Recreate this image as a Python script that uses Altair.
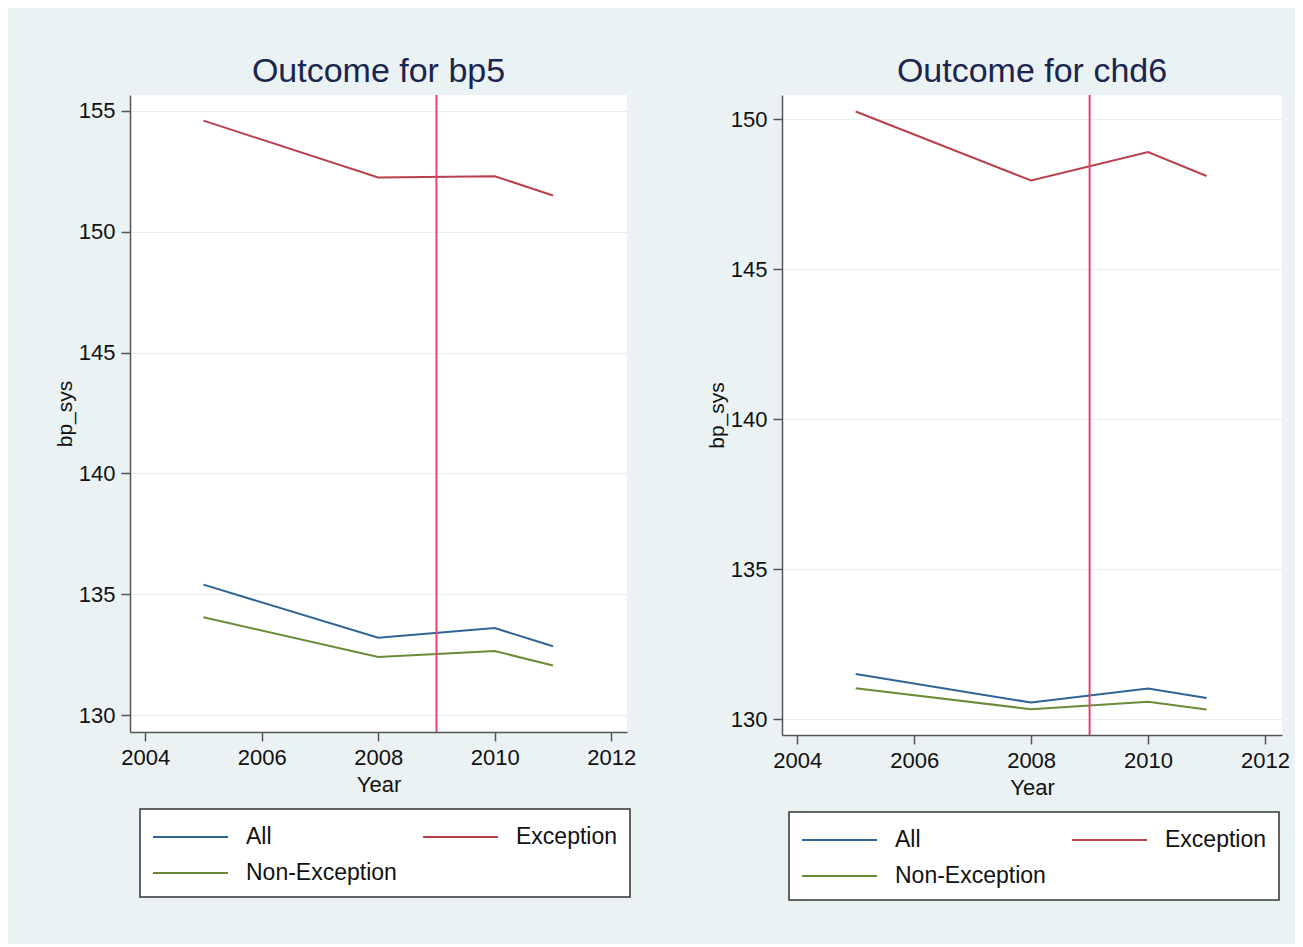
import altair as alt
import pandas as pd

years = [2005, 2008, 2010, 2011]
groups = ["All", "Exception", "Non-Exception"]

bp5_all = [135.4, 133.2, 133.6, 132.85]
bp5_exc = [154.6, 152.25, 152.3, 151.5]
bp5_non = [134.05, 132.4, 132.65, 132.05]

chd6_all = [131.5, 130.55, 131.02, 130.7]
chd6_exc = [150.25, 147.95, 148.9, 148.1]
chd6_non = [131.03, 130.33, 130.58, 130.32]

policy_year = [2009]
x_ticks = [2004, 2006, 2008, 2010, 2012]
bp5_ticks = [130, 135, 140, 145, 150, 155]
chd6_ticks = [130, 135, 140, 145, 150]

colors = ["#2f6496", "#b9404c", "#6a8c3a"]
FONT = "Liberation Sans"
LEGEND_LINE = "M-1,0H4"


def panel_df(all_vals, exc_vals, non_vals):
    rows = []
    for g, vals in zip(groups, [all_vals, exc_vals, non_vals]):
        for yr, v in zip(years, vals):
            rows.append({"Year": yr, "bp_sys": v, "group": g})
    return pd.DataFrame(rows)


def make_panel(df, title, xdom, ydom, yticks, w, h, lx, ly):
    lines = alt.Chart(df).mark_line(strokeWidth=2).encode(
        x=alt.X("Year:Q",
                scale=alt.Scale(domain=xdom, nice=False, zero=False),
                axis=alt.Axis(values=x_ticks, format="d", grid=False, title="Year")),
        y=alt.Y("bp_sys:Q",
                scale=alt.Scale(domain=ydom, nice=False, zero=False),
                axis=alt.Axis(values=yticks, grid=True, title="bp_sys")),
        color=alt.Color("group:N",
                        scale=alt.Scale(domain=groups, range=colors),
                        legend=alt.Legend(title=None, orient="none", legendX=lx, legendY=ly,
                                          direction="horizontal", columns=2,
                                          symbolType=LEGEND_LINE, symbolSize=900,
                                          symbolStrokeWidth=2, labelFontSize=23, labelFont=FONT,
                                          labelColor="#111111", labelOffset=62,
                                          columnPadding=22, rowPadding=8, padding=12,
                                          fillColor="white", strokeColor="#333333")),
    )
    rule = alt.Chart(pd.DataFrame({"Year": policy_year})).mark_rule(
        color="#e0456b", strokeWidth=2).encode(x="Year:Q")
    return alt.layer(lines, rule).properties(
        width=w, height=h,
        title=alt.TitleParams(title, fontSize=34, font=FONT, color="#1a2550",
                              fontWeight="normal", anchor="middle", offset=5))


left = make_panel(panel_df(bp5_all, bp5_exc, bp5_non), "Outcome for bp5",
                  [2003.74, 2012.27], [129.3, 155.66], bp5_ticks, 497, 637, 10, 714)
right = make_panel(panel_df(chd6_all, chd6_exc, chd6_non), "Outcome for chd6",
                   [2003.74, 2012.29], [129.47, 150.8], chd6_ticks, 500, 640, 7, 717)

chart = alt.hconcat(left, right, spacing=70).resolve_scale(color="independent").properties(
    padding={"left": 46, "top": 47, "right": 5, "bottom": 43},
    background="#eaf2f3",
).configure_view(fill="white", strokeWidth=0).configure_axis(
    domainColor="#555555", domainWidth=1.5, tickColor="#555555", tickSize=9, tickWidth=1.5,
    labelFontSize=22, labelFont=FONT, labelColor="#111111", labelPadding=6,
    titleFontSize=22, titleFont=FONT, titleColor="#111111", titleFontWeight="normal",
    gridColor="#e6eff0", gridWidth=1.2,
).configure_axisY(titlePadding=3, titleFontSize=21).configure_axisX(titlePadding=6
).configure_legend(strokeWidth=1.5)

chart.save("out.html", embed_options={"renderer": "svg", "actions": False})
